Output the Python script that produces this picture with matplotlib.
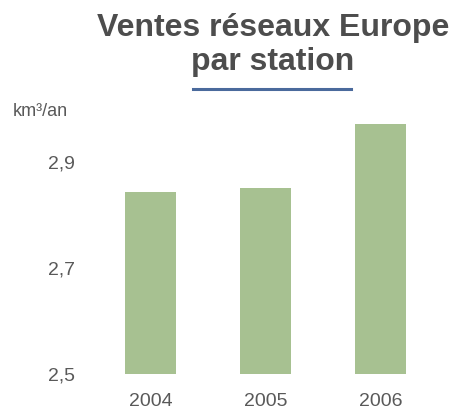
import matplotlib.pyplot as plt
from matplotlib.lines import Line2D

years = ["2004", "2005", "2006"]
ventes = [2.843, 2.851, 2.972]
yticks = [2.5, 2.7, 2.9]
ytick_labels = ["2,5", "2,7", "2,9"]

plt.rcParams['font.family'] = ['Liberation Sans', 'DejaVu Sans']
grey = "#595959"

W, H = 451, 411
fig = plt.figure(figsize=(W / 100, H / 100), dpi=100)

# axes placed in pixel coords: x from 93 to 438, y from 374 (2.5) to 109 (3.0)
ax = fig.add_axes([93 / W, (H - 374) / H, 345 / W, 265 / H])
ax.bar(range(len(years)), ventes, width=0.443, color="#a7c191", bottom=0)
ax.set_xlim(-0.5, 2.5)
ax.set_ylim(2.5, 3.0)
ax.set_yticks(yticks)
ax.set_yticklabels(ytick_labels)
ax.set_xticks(range(len(years)))
ax.set_xticklabels(years)
ax.tick_params(axis="both", length=0, labelsize=14, labelcolor=grey)
ax.tick_params(axis="y", pad=13)
ax.tick_params(axis="x", pad=14)
for s in ax.spines.values():
    s.set_visible(False)

fig.text(273 / W, 1 - 45 / H, "Ventes réseaux Europe\npar station", ha="center",
         va="center", fontsize=23, fontweight="bold", color="#4d4d4d", linespacing=1.15)
fig.add_artist(Line2D([193 / W, 351 / W], [1 - 89 / H, 1 - 89 / H],
                      color="#4a6a9c", lw=2.2))
fig.text(13 / W, 1 - 111 / H, "km³/an", ha="left", va="center", fontsize=13, color=grey)

fig.savefig("out.png", dpi=100)
